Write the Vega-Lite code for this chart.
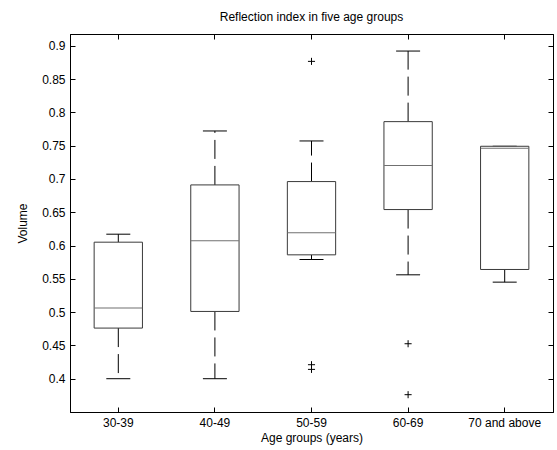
{
  "$schema": "https://vega.github.io/schema/vega-lite/v6.json",
  "autosize": "none",
  "width": 483,
  "height": 378,
  "padding": {"left": 70, "top": 34, "right": 4, "bottom": 38},
  "background": "white",
  "title": {"text": "Reflection index in five age groups", "font": "Liberation Sans", "fontSize": 12, "fontWeight": "normal", "color": "black", "offset": 10},
  "config": {
    "view": {"stroke": "black", "strokeWidth": 1},
    "axis": {"labelFont": "Liberation Sans", "labelFontSize": 12, "labelColor": "black", "titleFont": "Liberation Sans", "titleFontSize": 12, "titleFontWeight": "normal", "titleColor": "black", "grid": false, "domainColor": "black", "tickColor": "black", "tickSize": -5, "labelPadding": 10}
  },
  "datasets": {
    "boxes": [
      {"group": "30-39", "lo": 0.400, "q1": 0.476, "med": 0.506, "q3": 0.605, "hi": 0.617},
      {"group": "40-49", "lo": 0.400, "q1": 0.501, "med": 0.607, "q3": 0.691, "hi": 0.772},
      {"group": "50-59", "lo": 0.579, "q1": 0.586, "med": 0.619, "q3": 0.696, "hi": 0.757},
      {"group": "60-69", "lo": 0.556, "q1": 0.654, "med": 0.720, "q3": 0.786, "hi": 0.892},
      {"group": "70 and above", "lo": 0.545, "q1": 0.564, "med": 0.746, "q3": 0.749, "hi": 0.749}
    ],
    "outliers": [
      {"group": "50-59", "value": 0.8765},
      {"group": "50-59", "value": 0.421},
      {"group": "50-59", "value": 0.414},
      {"group": "60-69", "value": 0.4525},
      {"group": "60-69", "value": 0.376}
    ]
  },
  "resolve": {"axis": {"x": "independent", "y": "independent"}},
  "layer": [
    {
      "data": {"name": "boxes"},
      "mark": {"type": "rule", "color": "black", "strokeWidth": 1, "strokeDash": [19, 7]},
      "encoding": {
        "x": {"field": "group", "type": "nominal", "sort": ["30-39", "40-49", "50-59", "60-69", "70 and above"], "scale": {"paddingInner": 0, "paddingOuter": 0}, "axis": {"title": "Age groups (years)", "labelAngle": 0, "titlePadding": 4}},
        "y": {"field": "q3", "type": "quantitative", "scale": {"domain": [0.35, 0.9176], "nice": false, "zero": false}, "axis": {"title": "Volume", "values": [0.4, 0.45, 0.5, 0.55, 0.6, 0.65, 0.7, 0.75, 0.8, 0.85, 0.9], "format": ".2~f", "titlePadding": 12}},
        "y2": {"field": "hi"}
      }
    },
    {
      "data": {"name": "boxes"},
      "mark": {"type": "rule", "color": "black", "strokeWidth": 1, "strokeDash": [19, 7]},
      "encoding": {
        "x": {"field": "group", "type": "nominal", "sort": ["30-39", "40-49", "50-59", "60-69", "70 and above"], "axis": {"orient": "top", "labels": false, "title": null}},
        "y": {"field": "q1", "type": "quantitative", "axis": {"orient": "right", "labels": false, "title": null, "values": [0.4, 0.45, 0.5, 0.55, 0.6, 0.65, 0.7, 0.75, 0.8, 0.85, 0.9]}},
        "y2": {"field": "lo"}
      }
    },
    {
      "data": {"name": "boxes"},
      "mark": {"type": "tick", "color": "black", "size": 24, "thickness": 1, "opacity": 1},
      "encoding": {
        "x": {"field": "group", "type": "nominal", "sort": ["30-39", "40-49", "50-59", "60-69", "70 and above"], "axis": null},
        "y": {"field": "hi", "type": "quantitative", "axis": null}
      }
    },
    {
      "data": {"name": "boxes"},
      "mark": {"type": "tick", "color": "black", "size": 24, "thickness": 1, "opacity": 1},
      "encoding": {
        "x": {"field": "group", "type": "nominal", "sort": ["30-39", "40-49", "50-59", "60-69", "70 and above"], "axis": null},
        "y": {"field": "lo", "type": "quantitative", "axis": null}
      }
    },
    {
      "data": {"name": "boxes"},
      "mark": {"type": "bar", "fill": "white", "stroke": "#3a3a3a", "strokeWidth": 1, "width": {"band": 0.5}},
      "encoding": {
        "x": {"field": "group", "type": "nominal", "sort": ["30-39", "40-49", "50-59", "60-69", "70 and above"], "axis": null},
        "y": {"field": "q1", "type": "quantitative", "axis": null},
        "y2": {"field": "q3"}
      }
    },
    {
      "data": {"name": "boxes"},
      "mark": {"type": "tick", "color": "#707070", "size": 48, "thickness": 1, "opacity": 1},
      "encoding": {
        "x": {"field": "group", "type": "nominal", "sort": ["30-39", "40-49", "50-59", "60-69", "70 and above"], "axis": null},
        "y": {"field": "med", "type": "quantitative", "axis": null}
      }
    },
    {
      "data": {"name": "outliers"},
      "mark": {"type": "point", "shape": "M-1,0L1,0M0,-1L0,1", "filled": false, "stroke": "black", "strokeWidth": 1, "size": 50, "opacity": 1},
      "encoding": {
        "x": {"field": "group", "type": "nominal", "sort": ["30-39", "40-49", "50-59", "60-69", "70 and above"], "axis": null},
        "y": {"field": "value", "type": "quantitative", "axis": null}
      }
    }
  ]
}
